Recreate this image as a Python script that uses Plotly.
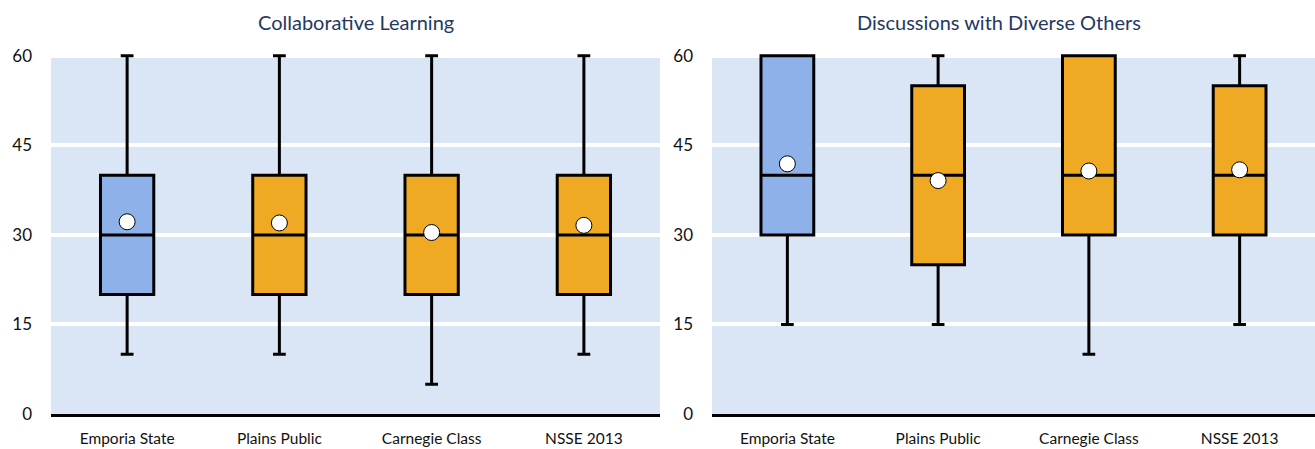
import plotly.graph_objects as go

categories = ["Emporia State", "Plains Public", "Carnegie Class", "NSSE 2013"]
titles = ["Collaborative Learning", "Discussions with Diverse Others"]
y_ticks = [0, 15, 30, 45, 60]

# Collaborative Learning
cl_min = [10, 10, 5, 10]
cl_q1 = [20, 20, 20, 20]
cl_median = [30, 30, 30, 30]
cl_q3 = [40, 40, 40, 40]
cl_max = [60, 60, 60, 60]
cl_mean = [32.2, 32.0, 30.4, 31.6]

# Discussions with Diverse Others
dd_min = [15, 15, 10, 15]
dd_q1 = [30, 25, 30, 30]
dd_median = [40, 40, 40, 40]
dd_q3 = [60, 55, 60, 55]
dd_max = [60, 60, 60, 60]
dd_mean = [41.9, 39.1, 40.7, 40.9]

BLUE = "#8EB1EA"
ORANGE = "#EFA922"
BG = "#DAE5F6"
TITLE_C = "#1F3864"
FONT = "Lato, 'Open Sans', sans-serif"

W, H = 1315, 449
fig = go.Figure()

panels = [
    (cl_min, cl_q1, cl_median, cl_q3, cl_max, cl_mean),
    (dd_min, dd_q1, dd_median, dd_q3, dd_max, dd_mean),
]

for i, (mn, q1, md, q3, mx, mean) in enumerate(panels):
    xa = "x" if i == 0 else "x2"
    ya = "y" if i == 0 else "y2"
    groups = [([0], BLUE), ([1, 2, 3], ORANGE)]
    for idx, col in groups:
        fig.add_trace(go.Box(
            x=[categories[k] for k in idx],
            q1=[q1[k] for k in idx],
            median=[md[k] for k in idx],
            q3=[q3[k] for k in idx],
            lowerfence=[mn[k] for k in idx],
            upperfence=[mx[k] for k in idx],
            fillcolor=col,
            line=dict(color="black", width=3),
            whiskerwidth=0.24,
            width=0.35,
            boxpoints=False,
            hoverinfo="skip",
            showlegend=False,
            xaxis=xa, yaxis=ya,
        ))
    fig.add_trace(go.Scatter(
        x=categories, y=mean, mode="markers",
        marker=dict(size=16, color="white", line=dict(color="black", width=1)),
        showlegend=False, hoverinfo="skip", cliponaxis=False,
        xaxis=xa, yaxis=ya,
    ))

top_px, bot_px = 54, 414
ydom = [(H - bot_px) / H, (H - top_px) / H]
doms = [[51 / W, 660 / W], [712 / W, 1.0]]

common_y = dict(
    range=[0, 60.3], tickvals=y_ticks, showgrid=True, gridcolor="white", gridwidth=4,
    zeroline=False, showline=False, ticks="", ticklabelstandoff=18,
    tickfont=dict(family=FONT, size=17, color="#111111"), fixedrange=True,
    domain=ydom, automargin=False,
)
common_x = dict(
    type="category", categoryorder="array", categoryarray=categories,
    showgrid=False, zeroline=False, showline=True, linecolor="black", linewidth=3,
    ticks="", ticklabelstandoff=8, automargin=False,
    tickfont=dict(family=FONT, size=15.5, color="#111111"), range=[-0.5, 3.5],
)

fig.update_layout(
    width=W, height=H,
    margin=dict(l=0, r=0, t=0, b=0),
    paper_bgcolor="white", plot_bgcolor=BG,
    boxmode="overlay",
    xaxis=dict(domain=doms[0], anchor="y", **common_x),
    yaxis=dict(anchor="x", **common_y),
    xaxis2=dict(domain=doms[1], anchor="y2", **common_x),
    yaxis2=dict(anchor="x2", **common_y),
    annotations=[
        dict(text=titles[0], x=355.5 / W, y=1 - 22 / H, xref="paper", yref="paper",
             showarrow=False, xanchor="center", yanchor="middle",
             font=dict(family=FONT, size=20, color=TITLE_C)),
        dict(text=titles[1], x=999 / W, y=1 - 22 / H, xref="paper", yref="paper",
             showarrow=False, xanchor="center", yanchor="middle",
             font=dict(family=FONT, size=20, color=TITLE_C)),
    ],
)

fig.write_html(
    "out.html",
    config={"displayModeBar": False},
    post_script="document.body.style.margin='0';document.body.style.overflow='hidden';",
)
